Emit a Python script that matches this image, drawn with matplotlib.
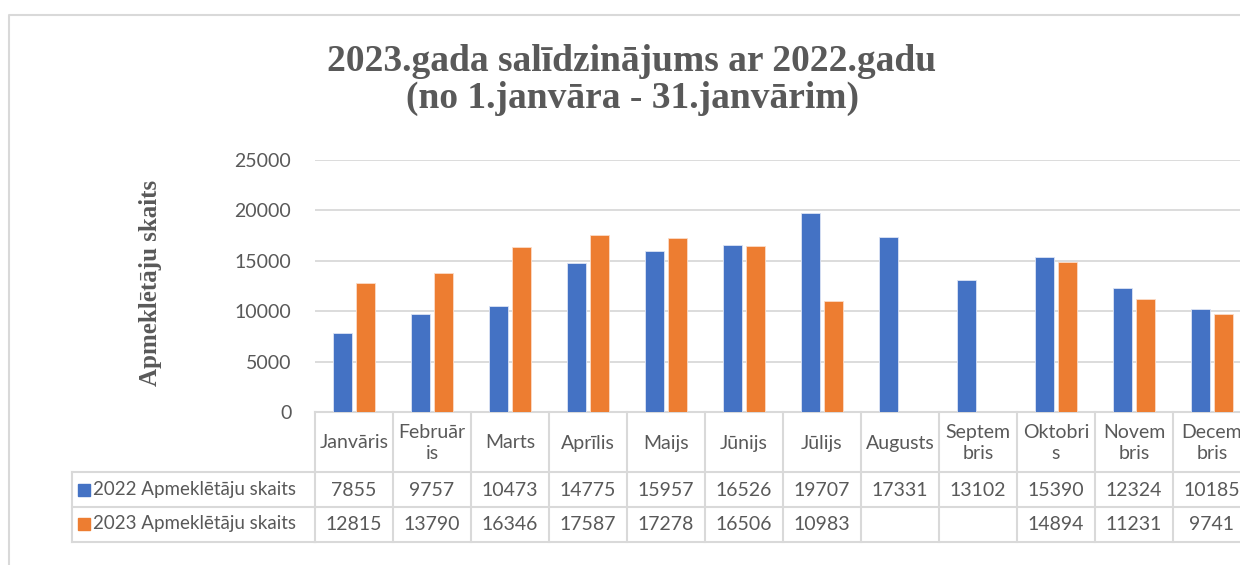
"""
2023 vs 2022 visitor counts, column chart with data table underneath
"""

import matplotlib.pyplot as plt
import numpy as np
from matplotlib import transforms
from matplotlib.lines import Line2D
from matplotlib.patches import Rectangle

months = ['Janvāris', 'Februār\nis', 'Marts', 'Aprīlis', 'Maijs', 'Jūnijs', 'Jūlijs',
          'Augusts', 'Septem\nbris', 'Oktobri\ns', 'Novem\nbris', 'Decem\nbris']
visitors_2022 = [7855, 9757, 10473, 14775, 15957, 16526, 19707, 17331, 13102, 15390, 12324, 10185]
visitors_2023 = [12815, 13790, 16346, 17587, 17278, 16506, 10983, None, None, 14894, 11231, 9741]
series_names = ['2022 Apmeklētāju skaits', '2023 Apmeklētāju skaits']
title = '2023.gada salīdzinājums ar 2022.gadu\n(no 1.janvāra - 31.janvārim)'
y_label = 'Apmeklētāju skaits'
y_ticks = [0, 5000, 10000, 15000, 20000, 25000]

W, H = 1240, 565
BLUE = '#4472C4'
ORANGE = '#ED7D31'
TEXT = '#595959'
GRID = '#D9D9D9'
SANS = ['Lato', 'DejaVu Sans']
SERIF = ['Liberation Serif', 'DejaVu Serif']


def fx(px):
    return px / W


def fy(py):
    return 1 - py / H


fig = plt.figure(figsize=(W / 100, H / 100), dpi=100)
fig.patch.set_facecolor('white')

# plot area in pixels: x 315..1251, y 160..412
ax = fig.add_axes([fx(315), fy(412), fx(1251 - 315), (412 - 160) / H])
n = len(months)
x = np.arange(n) + 0.5
w = 0.245
ax.bar(x - 0.147, visitors_2022, width=w, color=BLUE, edgecolor='#DCE4F5', linewidth=0.6, zorder=3)
idx = [i for i, v in enumerate(visitors_2023) if v is not None]
ax.bar(x[idx] + 0.147, [visitors_2023[i] for i in idx], width=w, color=ORANGE,
       edgecolor='#FBDCC8', linewidth=0.6, zorder=3)

ax.set_xlim(0, n)
ax.set_ylim(0, 25000)
ax.set_yticks(y_ticks)
ax.set_yticklabels([str(t) for t in y_ticks], family=SANS, fontsize=14, color=TEXT)
ax.tick_params(axis='y', length=0, pad=17)
ax.set_xticks([])
ax.yaxis.grid(True, color=GRID, linewidth=1.3)
ax.set_axisbelow(True)
for s in ax.spines.values():
    s.set_visible(False)

# data table below the plot, x in data units, y in figure pixels
tr = transforms.blended_transform_factory(ax.transData, fig.transFigure)
rows = [412, 472, 507, 542]
for r in rows:
    ax.add_line(Line2D([0, n], [fy(r), fy(r)], transform=tr, color=GRID, lw=1.5, clip_on=False))
for i in range(n + 1):
    ax.add_line(Line2D([i, i], [fy(412), fy(542)], transform=tr, color=GRID, lw=1.5, clip_on=False))
for r in rows[1:]:
    fig.add_artist(Line2D([fx(72), fx(315)], [fy(r), fy(r)], color=GRID, lw=1.5))
fig.add_artist(Line2D([fx(72), fx(72)], [fy(472), fy(542)], color=GRID, lw=1.5))

for i, m in enumerate(months):
    ax.text(x[i], fy(443), m, transform=tr, ha='center', va='center', family=SANS,
            fontsize=14, color=TEXT, linespacing=1.3, clip_on=False)
    ax.text(x[i], fy(490), str(visitors_2022[i]), transform=tr, ha='center', va='center',
            family=SANS, fontsize=14, color=TEXT, clip_on=False)
    if visitors_2023[i] is not None:
        ax.text(x[i], fy(524), str(visitors_2023[i]), transform=tr, ha='center', va='center',
                family=SANS, fontsize=14, color=TEXT, clip_on=False)

for name, col, yc in zip(series_names, [BLUE, ORANGE], [490, 524]):
    fig.add_artist(Rectangle((fx(78), fy(yc + 6)), 12 / W, 12 / H, color=col, transform=fig.transFigure))
    fig.text(fx(93), fy(yc), name, ha='left', va='center', family=SANS, fontsize=13.5, color=TEXT)

# titles
fig.text(fx(632), fy(80), title, ha='center', va='center', family=SERIF, weight='bold',
         fontsize=27, color=TEXT, linespacing=1.07)
fig.text(fx(150), fy(283), y_label, ha='center', va='center', rotation=90, family=SERIF,
         weight='bold', fontsize=18, color=TEXT)

# chart frame (cut off at right and bottom)
fig.add_artist(Line2D([fx(9), fx(9), 1], [0, fy(15), fy(15)], color=GRID, lw=1.5))

fig.savefig('out.png', dpi=100)
